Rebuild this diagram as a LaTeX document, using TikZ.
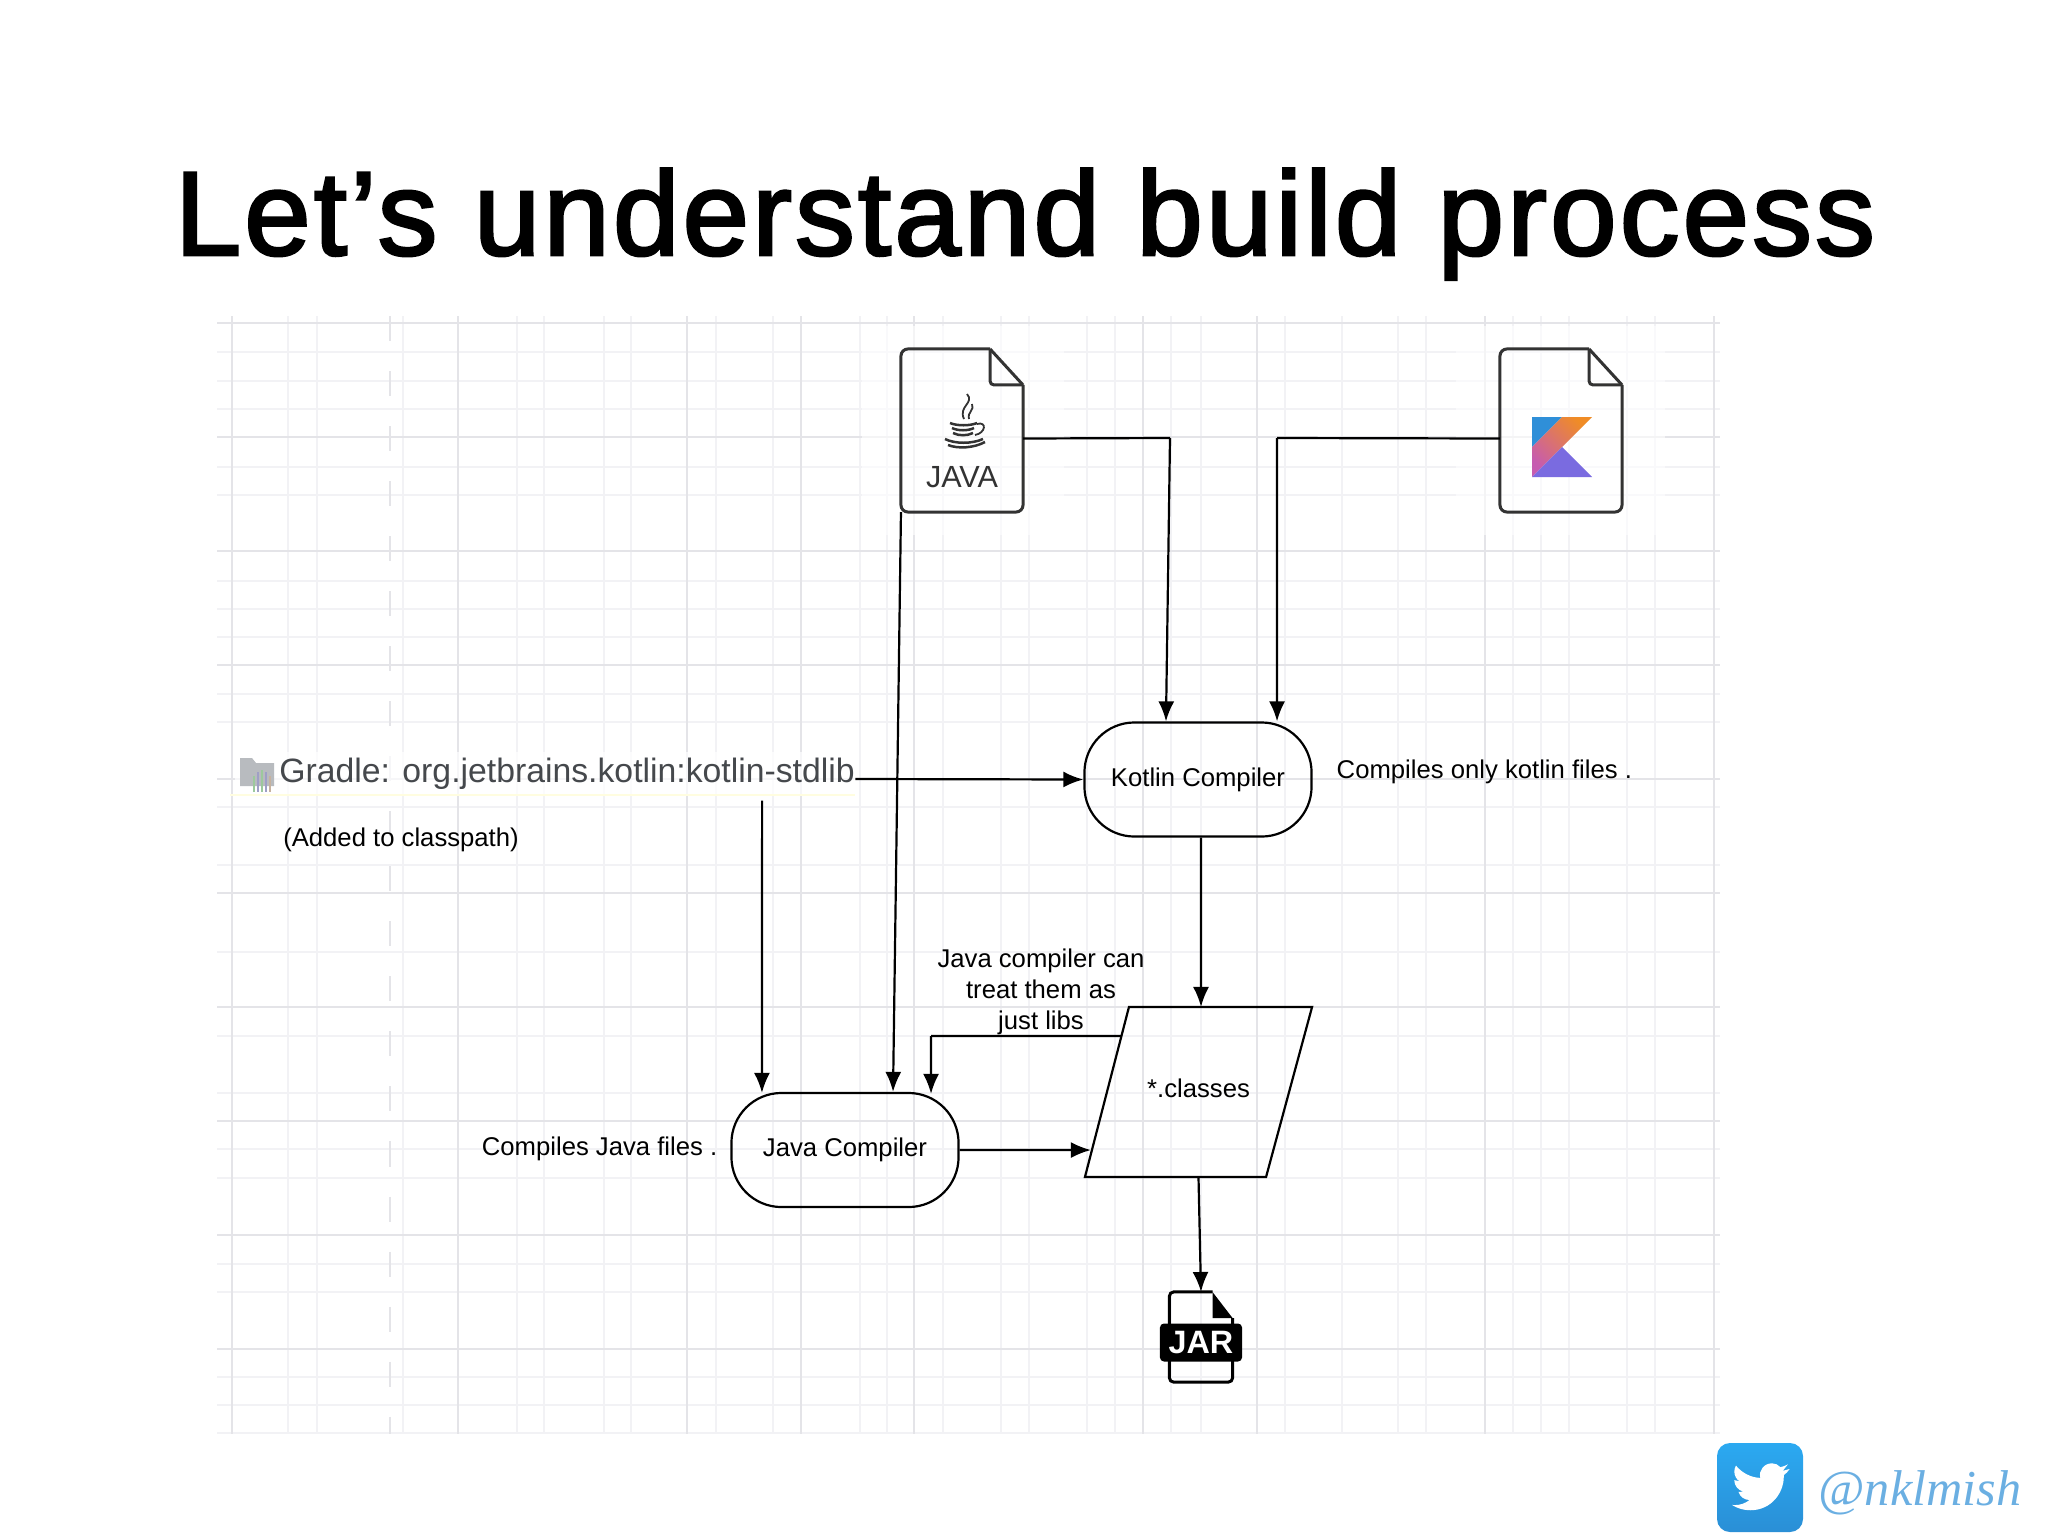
\documentclass[tikz,border=0pt]{standalone}
\usepackage{fontspec}
\setmainfont{Liberation Sans}
\newfontfamily\handfont{Liberation Serif}
\newfontfamily\titlefont[FakeBold=2.2,LetterSpace=2.6]{Liberation Sans}
\usetikzlibrary{arrows.meta}
\definecolor{gridmajor}{HTML}{E4E4E8}
\definecolor{gridminor}{HTML}{F2F2F5}
\definecolor{inkgrey}{HTML}{333333}
\definecolor{gradlegrey}{HTML}{45484C}
\definecolor{folderfill}{HTML}{B8BBBF}
\definecolor{kblue}{HTML}{2F8FD8}
\definecolor{korange}{HTML}{F08C26}
\definecolor{kpink}{HTML}{C65BB0}
\definecolor{kpurple}{HTML}{7A6BE0}
\definecolor{birdtop}{HTML}{2BA9F1}
\definecolor{birdlow}{HTML}{2A8FD6}
\definecolor{handblue}{HTML}{6BAFE2}
% sheet of paper with a folded corner round a file node
\newcommand{\sheetoutline}[1]{
	\draw[inkgrey, line width=0.03cm, rounded corners=0.07cm] ([xshift=-0.33cm]#1.north east) -- (#1.north west) -- (#1.south west) -- (#1.south east) -- ([yshift=-0.36cm]#1.north east);
	\draw[inkgrey, line width=0.03cm] ([xshift=-0.33cm]#1.north east) -- ([yshift=-0.36cm]#1.north east);
	\draw[inkgrey, line width=0.03cm, rounded corners=0.04cm] ([xshift=-0.33cm]#1.north east) -- ([xshift=-0.33cm,yshift=-0.36cm]#1.north east) -- ([yshift=-0.36cm]#1.north east);
}
\begin{document}
\begin{tikzpicture}[x=0.01cm, y=-0.01cm,
	filenode/.style={minimum width=1.22cm, minimum height=1.63cm, inner sep=0, outer sep=0},
	compiler/.style={draw=black, line width=0.022cm, rounded corners=0.5cm, minimum width=2.27cm, minimum height=1.14cm, inner sep=0, font=\fontsize{7.3pt}{9pt}\selectfont},
	note/.style={inner sep=0, font=\fontsize{7.3pt}{8.8pt}\selectfont, align=center},
	flow/.style={draw=black, line width=0.022cm, -{Latex[length=0.2cm, width=0.16cm]}},
	plain/.style={draw=black, line width=0.022cm}]
	\useasboundingbox (0, 0) rectangle (2048, 1536);

	% the grid behind the diagram
	\foreach \gx in {288,317,403,517,544,604,631,716,773,860,887,943,1001,1029,1087,1115,1171,1201,1285,1342,1398,1426,1513,1541,1569,1627,1655}
		\draw[gridminor, line width=0.015cm] (\gx, 316) -- (\gx, 1434);
	\foreach \gy in {352,381,409,467,495,581,609,637,694,722,807,865,952,1036,1093,1149,1178,1264,1292,1377,1405,1433}
		\draw[gridminor, line width=0.015cm] (217, \gy) -- (1720, \gy);
	\foreach \gx in {232,458,687,801,914,1143,1257,1485,1714}
		\draw[gridmajor, line width=0.018cm] (\gx, 316) -- (\gx, 1434);
	\foreach \gy in {323,437,551,665,779,893,1007,1121,1235,1349}
		\draw[gridmajor, line width=0.018cm] (217, \gy) -- (1720, \gy);
	\draw[gridmajor, line width=0.02cm, dash pattern=on 0.25cm off 0.3cm] (390, 316) -- (390, 1434);
	\fill[white, opacity=0.6] (862, 326) rectangle (1064, 535);
	\fill[white, opacity=0.6] (1456, 326) rectangle (1665, 535);
	\fill[white, opacity=0.7] (235, 752) rectangle (857, 795);
	\draw[yellow!12, line width=0.02cm] (230, 795) -- (855, 795);

	\node[anchor=base, inner sep=0, font=\titlefont\fontsize{34pt}{40pt}\selectfont] at (1025, 255) (title) {Let’s understand build process};

	\node[filenode] at (962, 430.5) (javafile) {};
	\node[filenode] at (1561, 430.5) (kotlinfile) {};
	\sheetoutline{javafile}
	\sheetoutline{kotlinfile}
	\node[inner sep=0, text=inkgrey, font=\fontsize{8.7pt}{10pt}\selectfont] at (962, 477) (javaword) {JAVA};

	% coffee cup
	\draw[inkgrey, line width=0.018cm] (967, 394) .. controls (975, 403) and (958, 406) .. (964, 419);
	\draw[inkgrey, line width=0.018cm] (972, 404) .. controls (975, 410) and (967, 412) .. (969, 419);
	\draw[inkgrey, line width=0.025cm] (950, 423) .. controls (957, 426) and (970, 426) .. (977, 423);
	\draw[inkgrey, line width=0.025cm] (952, 428) .. controls (958, 431) and (968, 431) .. (974, 428);
	\draw[inkgrey, line width=0.025cm] (953, 433) .. controls (959, 436) and (967, 436) .. (973, 433);
	\draw[inkgrey, line width=0.018cm] (977, 424) .. controls (987, 421) and (986, 433) .. (975, 435);
	\draw[inkgrey, line width=0.025cm] (945, 439) .. controls (955, 444) and (972, 444) .. (983, 439);
	\draw[inkgrey, line width=0.025cm] (948, 445) .. controls (958, 449) and (974, 448) .. (985, 442);

	% kotlin logo
	\fill[kblue] (1532, 417) -- (1562, 417) -- (1532, 447) -- cycle;
	\shade[left color=kpink, right color=korange, shading angle=135] (1562, 417) -- (1592, 417) -- (1532, 477) -- (1532, 447) -- cycle;
	\fill[kpurple] (1532, 477) -- (1562, 447) -- (1592, 477) -- cycle;

	\node[compiler] at (1198, 779.5) (kotlinc) {Kotlin Compiler};
	\node[compiler] at (845, 1150) (javac) {Java Compiler};
	\node[minimum width=2.27cm, minimum height=1.7cm, inner sep=0, outer sep=0, text depth=0.08cm, font=\fontsize{7.3pt}{9pt}\selectfont] at (1198.5, 1092) (classes) {*.classes};
	\draw[black, line width=0.022cm] ([xshift=0.44cm]classes.north west) -- (classes.north east) -- ([xshift=-0.46cm]classes.south east) -- (classes.south west) -- cycle;

	% gradle entry
	\fill[folderfill] (240, 758) -- (252, 758) -- (256, 763) -- (274, 763) -- (274, 786) -- (240, 786) -- cycle;
	\foreach \bx/\bc/\bt in {254/green!30!gray!60/776, 258/blue!25!gray!60/772, 262/green!30!gray!60/770, 266/blue!25!gray!60/772, 270/orange!25!gray!60/776}
		\draw[\bc, line width=0.016cm] (\bx, \bt) -- (\bx, 792);
	\node[inner sep=0, text=gradlegrey, text height=0.24cm, text depth=0.18cm, font=\fontsize{9.6pt}{11pt}\selectfont] at (567, 779) (gradle) {Gradle: org.jetbrains.kotlin:kotlin-stdlib};
	\node[note] at (401, 840) (classpath) {(Added to classpath)};
	\node[note, anchor=west] at (1336, 772) (kotlinnote) {Compiles only kotlin files .};
	\node[note, anchor=east] at (718, 1149) (javanote) {Compiles Java files .};
	\node[note] at (1041, 992) (libsnote) {Java compiler can\\treat them as\\just libs};

	% jar icon
	\node[minimum width=0.63cm, minimum height=0.9cm, inner sep=0, outer sep=0] at (1201, 1337) (jaricon) {};
	\draw[black, line width=0.03cm, rounded corners=0.04cm] ([xshift=-0.2cm]jaricon.north east) -- (jaricon.north west) -- (jaricon.south west) -- (jaricon.south east) -- ([yshift=-0.26cm]jaricon.north east);
	\fill[black] ([xshift=-0.2cm]jaricon.north east) -- ([yshift=-0.26cm]jaricon.north east) -- ([xshift=-0.2cm,yshift=-0.26cm]jaricon.north east) -- cycle;
	\node[fill=black, rounded corners=0.04cm, minimum width=0.82cm, minimum height=0.38cm, inner sep=0, text=white, font=\bfseries\fontsize{9.2pt}{10pt}\selectfont] at (1201, 1342.5) (jarword) {JAR};

	\coordinate (javabend) at (1170, 438);
	\coordinate (kotlinbend) at (1277, 438);
	\coordinate (libsbend) at (931, 1036);

	\path
	([yshift=-0.08cm]javafile.east) edge[plain] (javabend)
	(javabend) edge[flow] ([xshift=-0.32cm]kotlinc.north)
	([yshift=-0.08cm]kotlinfile.west) edge[plain] (kotlinbend)
	(kotlinbend) edge[flow] ([xshift=0.79cm]kotlinc.north)
	(javafile.south west) edge[flow] ([xshift=0.48cm]javac.north)
	(gradle.east) edge[flow] (kotlinc.west)
	([xshift=1.95cm]gradle.south) edge[flow] ([xshift=-0.83cm,yshift=-0.01cm]javac.north)
	([xshift=0.03cm]kotlinc.south) edge[flow] ([xshift=0.025cm]classes.north)
	(javac.east) edge[flow] ([xshift=0.06cm,yshift=0.27cm]classes.south west)
	([xshift=0.37cm,yshift=-0.29cm]classes.north west) edge[plain] (libsbend)
	(libsbend) edge[flow] ([xshift=0.86cm,yshift=-0.02cm]javac.north)
	(classes.south) edge[flow] (jaricon.north);

	% twitter badge
	\shade[top color=birdtop, bottom color=birdlow, rounded corners=0.13cm] (1717, 1443) rectangle (1803, 1532);
	\begin{scope}[shift={(1732, 1458)}, x=0.024cm, y=-0.024cm]
		\fill[white] (23.95, 4.57) -- (21.13, 5.35) -- (23.29, 2.62) .. controls (22.34, 3.18) and (21.29, 3.58) .. (20.17, 3.81) .. controls (19.3, 2.8) and (18, 2.2) .. (16.7, 2.2) .. controls (13.4, 2.2) and (11, 5.1) .. (11.78, 8.29) .. controls (7.69, 8.1) and (4.07, 6.13) .. (1.64, 3.16) .. controls (1.2, 3.9) and (0.97, 4.75) .. (0.97, 5.64) .. controls (0.97, 7.35) and (1.84, 8.85) .. (3.16, 9.73) -- (0.93, 9.18) .. controls (0.93, 11.56) and (2.63, 13.55) .. (4.88, 14) -- (2.67, 14.09) .. controls (3.3, 16.05) and (5.1, 17.45) .. (7.27, 17.5) .. controls (5.6, 18.8) and (3.5, 19.61) .. (1.17, 19.61) .. controls (0.78, 19.61) and (0.39, 19.59) .. (0, 19.54) .. controls (2.2, 20.95) and (4.8, 21.75) .. (7.56, 21.75) .. controls (16.61, 21.75) and (21.56, 14.25) .. (21.56, 7.77) .. controls (21.56, 7.56) and (21.56, 7.35) .. (21.54, 7.14) .. controls (22.5, 6.44) and (23.35, 5.58) .. (24, 4.59) -- cycle;
	\end{scope}
	\node[anchor=west, inner sep=0, text=handblue, font=\handfont\itshape\fontsize{14.3pt}{17pt}\selectfont] at (1818, 1493) (handle) {@nklmish};
\end{tikzpicture}
\end{document}
